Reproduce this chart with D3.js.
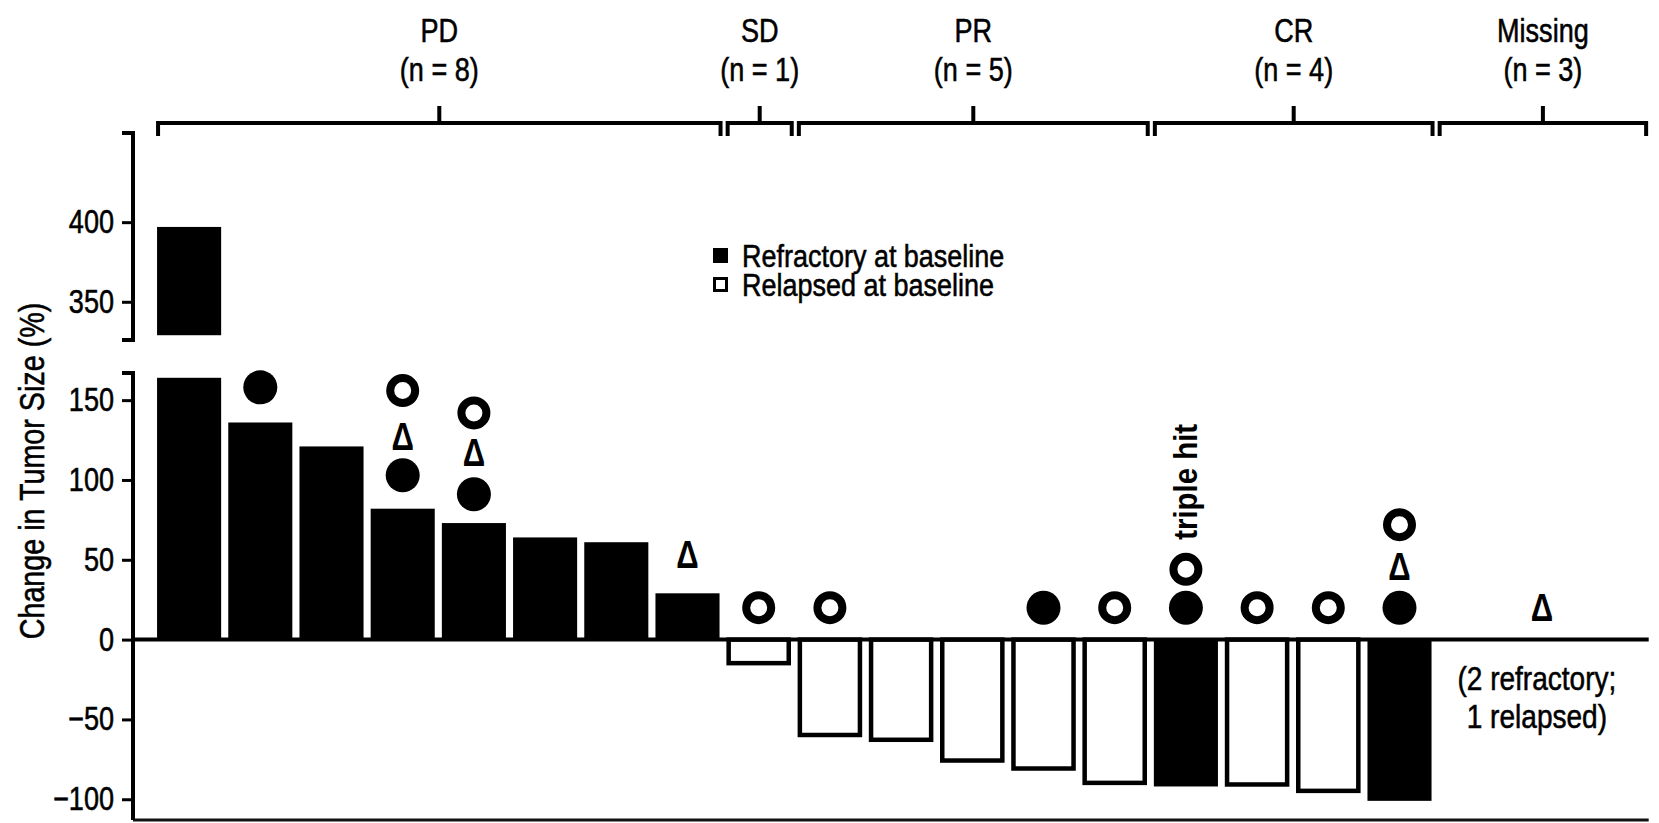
<!DOCTYPE html>
<html>
<head>
<meta charset="utf-8">
<script src="https://cdn.jsdelivr.net/npm/d3@7"></script>
<style>
  html, body { margin: 0; padding: 0; background: #fff; }
  svg { display: block; }
  text { fill: #000; }
</style>
</head>
<body>
<svg id="chart" width="1659" height="823"></svg>
<script>
// ---- data -------------------------------------------------------------
// Best change in tumor size per patient, ordered as plotted (slots 1..18)
const change = [397, 136, 121, 82, 73, 64, 61, 29, -16, -61, -64, -77, -82, -91, -92, -92, -96, -101];
// true = refractory at baseline (filled bar), false = relapsed (open bar)
const refractory = [true, true, true, true, true, true, true, true,
                    false, false, false, false, false, false, true, false, false, true];
// Response groups, in slot order (Missing has no measured bars)
const groupNames = ["PD", "SD", "PR", "CR", "Missing"];
const groupSizes = [8, 1, 5, 4, 3];
// Axis ticks for the two panels of the broken y axis
const lowerTicks = [-100, -50, 0, 50, 100, 150];
const upperTicks = [350, 400];
// Annotation symbols: [slot, y value]
const filledCircles = [[2, 158], [4, 103], [5, 91], [13, 20], [15, 20], [18, 20]];
const openCircles = [[4, 156], [5, 142], [9, 20], [10, 20], [14, 20], [15, 44], [16, 20], [17, 20], [18, 72]];
const deltas = [[4, 127], [5, 117], [8, 53], [18, 46], [20, 20]];
const tripleHit = [15, 65];
const legendItems = ["Refractory at baseline", "Relapsed at baseline"];
const missingNote = ["(2 refractory;", "1 relapsed)"];

// ---- fonts ------------------------------------------------------------
const svg = d3.select("#chart");
const NARROW = '"Liberation Sans Narrow", "Arial Narrow", sans-serif';
const WIDE = '"Liberation Sans", Arial, sans-serif';
function measure(family) {
  const t = svg.append("text").attr("font-family", family).attr("font-size", 40)
    .text("Refractory at baseline 400");
  const w = t.node().getComputedTextLength();
  t.remove();
  return w;
}
const hasNarrow = measure(NARROW) / measure(WIDE) < 0.9;
const FONT = hasNarrow ? NARROW : WIDE;
// condense text set in the regular face when no narrow face is installed
function condense(sel, k) {
  const factor = k || 0.82;
  sel.each(function () {
    if (hasNarrow && !k) return;
    const w = this.getComputedTextLength();
    d3.select(this).attr("textLength", w * (hasNarrow ? factor / 0.82 : factor))
      .attr("lengthAdjust", "spacingAndGlyphs");
  });
  return sel;
}
function label(parent, size, weight) {
  return parent.append("text").attr("font-family", FONT).attr("font-size", size)
    .attr("font-weight", weight || "normal")
    .attr("stroke", "#000").attr("stroke-width", weight ? 0 : 0.55);
}

// ---- layout -----------------------------------------------------------
const axisX = 133;
const rightX = 1648.7;
const nSlots = d3.sum(groupSizes);

const x = d3.scaleBand()
  .domain(d3.range(1, nSlots + 1))
  .range([153.5, rightX])
  .paddingInner(0.1)
  .paddingOuter(0.05);
const bw = x.bandwidth();
const cx = s => x(s) + bw / 2;

// lower panel and upper panel of the broken axis
const yLow = d3.scaleLinear().domain([-113, 167]).range([820, 373]);
const yHigh = d3.scaleLinear().domain([326, 456]).range([340, 133]);
const lowClip = 164, highClip = 329;
const yAt = v => v > lowClip ? yHigh(v) : yLow(v);

// ---- bars -------------------------------------------------------------
const bars = svg.append("g");
change.forEach((v, i) => {
  const slot = i + 1;
  const fill = refractory[i] ? "#000" : "#fff";
  const stroke = refractory[i] ? "none" : "#000";
  // lower panel part
  const lowTop = Math.min(v, lowClip);
  const y0 = yLow(Math.max(lowTop, 0)), y1 = yLow(Math.min(lowTop, 0));
  const inset = refractory[i] ? 0 : 2;
  bars.append("rect")
    .attr("x", x(slot) + inset).attr("width", bw - 2 * inset)
    .attr("y", y0).attr("height", Math.max(0, y1 - y0 - inset))
    .attr("fill", fill).attr("stroke", stroke).attr("stroke-width", 4.5);
  // upper panel part for values above the break
  if (v > highClip) {
    bars.append("rect")
      .attr("x", x(slot)).attr("width", bw)
      .attr("y", yHigh(v)).attr("height", yHigh(highClip) - yHigh(v))
      .attr("fill", fill);
  }
});

// ---- axes -------------------------------------------------------------
const axes = svg.append("g");
// zero line and bottom line
axes.append("line").attr("x1", axisX).attr("x2", rightX)
  .attr("y1", yLow(0)).attr("y2", yLow(0))
  .attr("stroke", "#000").attr("stroke-width", 4);
axes.append("line").attr("x1", axisX).attr("x2", rightX)
  .attr("y1", yLow.range()[0]).attr("y2", yLow.range()[0])
  .attr("stroke", "#111").attr("stroke-width", 3);

function drawAxis(scale, ticks) {
  const g = axes.append("g").attr("transform", `translate(${axisX},0)`)
    .call(d3.axisLeft(scale).tickValues(ticks).tickSize(11).tickPadding(8)
      .tickFormat(d => d < 0 ? "\u2212" + Math.abs(d) : d));
  g.select(".domain").remove();
  g.selectAll(".tick line").attr("stroke", "#000").attr("stroke-width", 3);
  const t = g.selectAll(".tick text").attr("font-size", 33).attr("fill", "#000")
    .attr("font-family", FONT)
    .attr("stroke", "#000").attr("stroke-width", 0.55);
  condense(t);
  // axis spine with short caps at both ends
  const [r0, r1] = scale.range();
  g.append("path")
    .attr("d", `M-11,${r1}H0V${r0}` + (scale === yHigh ? "H-11" : ""))
    .attr("fill", "none").attr("stroke", "#000").attr("stroke-width", 4);
}
drawAxis(yLow, lowerTicks);
drawAxis(yHigh, upperTicks);

condense(label(svg, 35)
  .attr("transform", `translate(44,471) rotate(-90)`)
  .attr("text-anchor", "middle")
  .text("Change in Tumor Size (%)"));

// ---- response group brackets -----------------------------------------
const brackets = svg.append("g");
let start = 1;
groupNames.forEach((name, gi) => {
  const first = start, last = start + groupSizes[gi] - 1;
  start = last + 1;
  const x0 = x(first) + 1, x1 = x(last) + bw + 1;
  const mid = (x0 + x1) / 2;
  brackets.append("path")
    .attr("d", `M${x0},136V123H${x1}V136M${mid},123V106`)
    .attr("fill", "none").attr("stroke", "#000").attr("stroke-width", 4);
  condense(label(brackets, 33).attr("x", mid).attr("y", 42)
    .attr("text-anchor", "middle").text(name));
  condense(label(brackets, 33).attr("x", mid).attr("y", 81)
    .attr("text-anchor", "middle").text(`(n = ${groupSizes[gi]})`));
});

// ---- annotation symbols ----------------------------------------------
const marks = svg.append("g");
marks.selectAll("circle.filled").data(filledCircles).join("circle")
  .attr("class", "filled")
  .attr("cx", d => cx(d[0])).attr("cy", d => yAt(d[1])).attr("r", 17)
  .attr("fill", "#000");
marks.selectAll("circle.open").data(openCircles).join("circle")
  .attr("class", "open")
  .attr("cx", d => cx(d[0])).attr("cy", d => yAt(d[1])).attr("r", 12.5)
  .attr("fill", "#fff").attr("stroke", "#000").attr("stroke-width", 8);
const deltaText = marks.selectAll("text.delta").data(deltas).join("text")
  .attr("class", "delta")
  .attr("font-family", FONT)
  .attr("x", d => cx(d[0])).attr("y", d => yAt(d[1]) + 13.5)
  .attr("text-anchor", "middle")
  .attr("font-size", 38).attr("font-weight", "bold")
  .text("\u0394");
condense(deltaText);

// vertical note above the triple-hit patient, fitted to its run length
label(marks, 34, "bold")
  .attr("transform", `translate(${cx(tripleHit[0]) + 11},${yAt(tripleHit[1]) + 4}) rotate(-90)`)
  .attr("textLength", 116).attr("lengthAdjust", "spacingAndGlyphs")
  .text("triple hit");

// ---- legend -----------------------------------------------------------
const legend = svg.append("g").attr("transform", "translate(713,256)");
legendItems.forEach((item, i) => {
  const row = legend.append("g").attr("transform", `translate(0,${i * 29})`);
  row.append("rect").attr("x", i ? 1.5 : 0).attr("y", i ? -6.5 : -8)
    .attr("width", i ? 12 : 15).attr("height", i ? 12 : 15)
    .attr("fill", i ? "#fff" : "#000")
    .attr("stroke", i ? "#000" : "none").attr("stroke-width", 3);
  condense(label(row, 31).attr("x", 29).attr("y", 11).text(item), 0.87);
});

// ---- note for patients without a measurement -------------------------
const noteX = (x(19) + x(21) + bw) / 2 - 5;
missingNote.forEach((line, i) => {
  condense(label(svg, 33).attr("x", noteX).attr("y", 690 + i * 38)
    .attr("text-anchor", "middle").text(line), 0.85);
});
</script>
</body>
</html>
